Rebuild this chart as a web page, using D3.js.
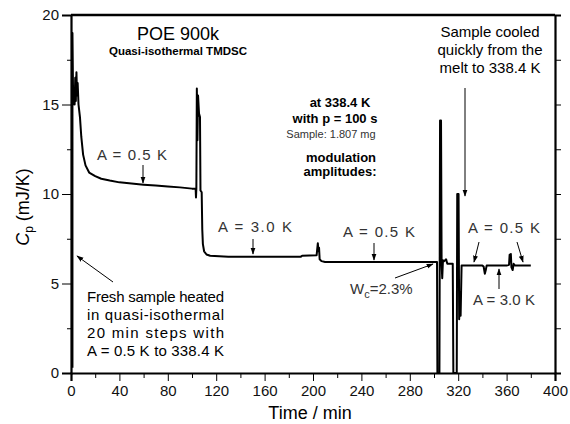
<!DOCTYPE html>
<html>
<head>
<meta charset="utf-8">
<script src="https://cdn.jsdelivr.net/npm/d3@7"></script>
<style>
  body { margin: 0; background: #fff; }
  svg { font-family: "Liberation Sans", Arial, sans-serif; }
</style>
</head>
<body>
<div id="chart"></div>
<script>
// time (min) and heat capacity (mJ/K)
var time = [1.2, 1.2, 1.8, 2.5, 3.0, 3.5, 4.0, 4.5, 5.0, 5.5, 6.2, 7.4, 8.5, 10, 12, 15, 20, 25, 32, 40, 50, 60, 70, 80, 90, 100,
    103, 103.3, 103.6, 104, 104.5, 105, 105.8, 106.6, 107, 108, 108.5, 109, 110, 112, 115, 130, 160, 190, 191, 203,
    204, 204.5, 205, 205.5, 207, 210, 250, 280, 302.5, 302.8, 304.5, 305, 305.8, 306.3, 306.8, 307.4, 308.5, 310, 311, 315.5,
    316, 318.8, 319.2, 320.3, 320.8, 321.5, 322, 322.8, 330, 340, 341, 342, 342.8, 343.5, 360, 362, 362.5, 363.5, 364, 365, 365.8, 367, 380];
var cp = [0.3, 19.0, 15.0, 15.5, 15.0, 16.5, 15.2, 16.8, 15.5, 16.2, 15.0, 14.3, 13.2, 12.2, 11.6, 11.2, 11.0, 10.85, 10.75, 10.65, 10.58, 10.52, 10.47, 10.42, 10.37, 10.3,
    10.3, 9.8, 10.3, 15.9, 13.0, 15.5, 14.5, 14.3, 10.2, 10.1, 8.0, 7.2, 6.8, 6.62, 6.55, 6.5, 6.5, 6.5, 6.55, 6.58,
    7.25, 6.8, 7.0, 6.35, 6.25, 6.2, 6.2, 6.2, 6.2, 0, 0, 14.1, 14.1, 6.1, 5.3, 6.3, 6.25, 6.35, 6.1, 6.1,
    0, 0, 10.0, 10.0, 3.0, 4.5, 3.2, 6.0, 6.0, 6.0, 5.95, 5.55, 5.75, 6.0, 6.0, 6.05, 6.6, 6.65, 5.9, 5.75, 6.1, 6.0, 6.0];

var xTicks = [0, 40, 80, 120, 160, 200, 240, 280, 320, 360, 400];
var xMinor = [20, 60, 100, 140, 180, 220, 260, 300, 340, 380];
var yTicks = [0, 5, 10, 15, 20];
var yMinor = [2.5, 7.5, 12.5, 17.5];

var trace = time.map(function (t, i) { return {t: t, v: cp[i]}; });

var margin = {top: 15, right: 15, bottom: 51, left: 71};
var W = 570, H = 424;
var width = W - margin.left - margin.right;
var height = H - margin.top - margin.bottom;

var svg = d3.select("#chart").append("svg")
    .attr("width", W)
    .attr("height", H);

var defs = svg.append("defs");
defs.append("marker")
    .attr("id", "head")
    .attr("viewBox", "0 0 10 10")
    .attr("refX", 9).attr("refY", 5)
    .attr("markerWidth", 7).attr("markerHeight", 7)
    .attr("markerUnits", "userSpaceOnUse")
    .attr("orient", "auto")
    .append("path")
    .attr("d", "M0,1.5 L10,5 L0,8.5 Z")
    .attr("fill", "#000");

defs.append("clipPath").attr("id", "clip")
    .append("rect")
    .attr("x", 0).attr("y", -2)
    .attr("width", width).attr("height", height + 2);

var g = svg.append("g")
    .attr("transform", "translate(" + margin.left + "," + margin.top + ")");

var x = d3.scaleLinear().domain([0, 400]).range([0, width]);
var y = d3.scaleLinear().domain([0, 20]).range([height, 0]);

// bottom axis, major + minor ticks
g.append("g")
    .attr("transform", "translate(0," + height + ")")
    .call(d3.axisBottom(x).tickValues(xTicks).tickSize(8).tickPadding(4));
g.append("g")
    .attr("transform", "translate(0," + height + ")")
    .call(d3.axisBottom(x).tickValues(xMinor).tickSize(5).tickFormat(""))
    .select(".domain").remove();

// left axis
g.append("g")
    .call(d3.axisLeft(y).tickValues(yTicks).tickSize(9).tickPadding(3));
g.append("g")
    .call(d3.axisLeft(y).tickValues(yMinor).tickSize(4).tickFormat(""))
    .select(".domain").remove();

// right axis, ticks only
g.append("g")
    .attr("transform", "translate(" + width + ",0)")
    .call(d3.axisRight(y).tickValues(yTicks.concat(yMinor)).tickSize(6).tickFormat(""));

// top frame
g.append("line")
    .attr("x1", 0).attr("x2", width)
    .attr("y1", 0).attr("y2", 0)
    .attr("stroke", "#000").attr("stroke-width", 2.5);

g.selectAll(".domain").attr("stroke-width", 2.2);
g.selectAll(".tick line").attr("stroke-width", 1);
g.selectAll(".tick text")
    .attr("font-size", 15)
    .attr("fill", "#111");

// axis labels
svg.append("text")
    .attr("x", 310).attr("y", 419)
    .attr("text-anchor", "middle")
    .attr("font-size", 18)
    .text("Time / min");

var yl = svg.append("text")
    .attr("transform", "rotate(-90)")
    .attr("x", -207).attr("y", 29)
    .attr("text-anchor", "middle")
    .attr("font-size", 18);
yl.append("tspan").attr("font-style", "italic").text("C");
yl.append("tspan").attr("font-size", 12).attr("dy", 4).text("p");
yl.append("tspan").attr("dy", -4).text(" (mJ/K)");

// the trace
var line = d3.line()
    .x(function (d) { return x(d.t); })
    .y(function (d) { return y(d.v); });

g.append("path")
    .datum(trace)
    .attr("clip-path", "url(#clip)")
    .attr("d", line)
    .attr("fill", "none")
    .attr("stroke", "#000")
    .attr("stroke-width", 2)
    .attr("stroke-linejoin", "round");

// ---------------- annotations ----------------
function label(px, py, txt, opts) {
    opts = opts || {};
    var t = svg.append("text")
        .attr("x", px).attr("y", py)
        .attr("text-anchor", opts.anchor || "start")
        .attr("font-size", opts.size || 15)
        .attr("font-weight", opts.weight || "normal")
        .attr("fill", opts.fill || "#000")
        .text(txt);
    if (opts.len) t.attr("textLength", opts.len).attr("lengthAdjust", "spacing");
    return t;
}
function arrow(x1, y1, x2, y2) {
    svg.append("line")
        .attr("x1", x1).attr("y1", y1)
        .attr("x2", x2).attr("y2", y2)
        .attr("stroke", "#000").attr("stroke-width", 1)
        .attr("marker-end", "url(#head)");
}

label(178, 40, "POE 900k", {anchor: "middle", size: 18});
label(178, 55, "Quasi-isothermal TMDSC", {anchor: "middle", size: 11.5, weight: "bold"});

label(340, 107, "at 338.4 K", {anchor: "middle", size: 13, weight: "bold"});
label(335, 123, "with p = 100 s", {anchor: "middle", size: 13, weight: "bold"});
label(331, 138, "Sample: 1.807 mg", {anchor: "middle", size: 11, fill: "#333"});
label(341, 162, "modulation", {anchor: "middle", size: 13, weight: "bold"});
label(340, 176, "amplitudes:", {anchor: "middle", size: 13, weight: "bold"});

label(490, 37, "Sample cooled", {anchor: "middle", size: 15});
label(490, 55, "quickly from the", {anchor: "middle", size: 15});
label(490, 73, "melt to 338.4 K", {anchor: "middle", size: 15});
arrow(465, 88, 465, 196);

label(97, 160, "A = 0.5 K", {size: 15, fill: "#333", len: 70});
arrow(143, 165, 143, 183);

label(218, 232, "A = 3.0 K", {size: 15, fill: "#333", len: 74});
arrow(253, 239, 253, 254);

label(343, 237, "A = 0.5 K", {size: 15, fill: "#333", len: 72});
arrow(374, 243, 374, 260);

label(468, 233, "A = 0.5 K", {size: 15, fill: "#333", len: 72});
arrow(479, 242, 474, 262);
arrow(517, 242, 523, 262);

label(473, 305, "A = 3.0 K", {size: 15, fill: "#333", len: 62});
arrow(499, 289, 499, 269);

var wc = svg.append("text")
    .attr("x", 350).attr("y", 294)
    .attr("font-size", 15).attr("fill", "#333");
wc.append("tspan").text("W");
wc.append("tspan").attr("font-size", 11).attr("dy", 4).text("c");
wc.append("tspan").attr("dy", -4).text("=2.3%");
arrow(395, 278, 433, 264);

label(87, 302, "Fresh sample heated", {size: 15, len: 137});
label(87, 320, "in quasi-isothermal", {size: 15, len: 137});
label(87, 338, "20 min steps with", {size: 15, len: 137});
label(87, 356, "A = 0.5 K to 338.4 K", {size: 15, len: 137});
arrow(113, 282, 77, 256);
</script>
</body>
</html>
